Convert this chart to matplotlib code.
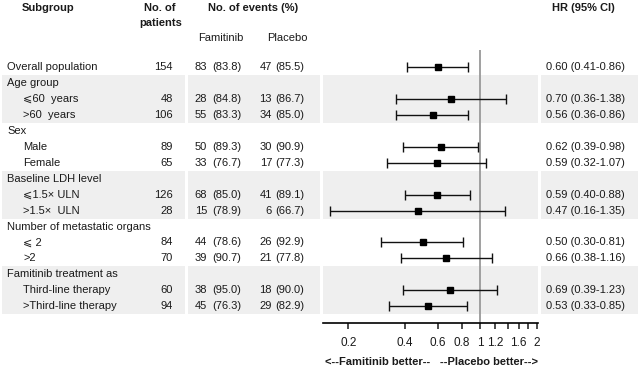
import matplotlib
matplotlib.use("Agg")
import matplotlib.pyplot as plt
import numpy as np

plt.rcParams['font.family'] = ['Liberation Sans', 'DejaVu Sans']
plt.rcParams['font.size'] = 8

# subgroup table
labels = ["Overall population", "Age group", "\u2a7d60  years", ">60  years",
          "Sex", "Male", "Female", "Baseline LDH level", "\u2a7d1.5\u00d7 ULN",
          ">1.5\u00d7  ULN", "Number of metastatic organs", "\u2a7d 2", ">2",
          "Famitinib treatment as", "Third-line therapy", ">Third-line therapy"]
indent = [0, 0, 1, 1, 0, 1, 1, 0, 1, 1, 0, 1, 1, 0, 1, 1]
patients = [154, None, 48, 106, None, 89, 65, None, 126, 28, None, 84, 70, None, 60, 94]
fam_n = [83, None, 28, 55, None, 50, 33, None, 68, 15, None, 44, 39, None, 38, 45]
fam_pct = [83.8, None, 84.8, 83.3, None, 89.3, 76.7, None, 85.0, 78.9, None, 78.6, 90.7, None, 95.0, 76.3]
pla_n = [47, None, 13, 34, None, 30, 17, None, 41, 6, None, 26, 21, None, 18, 29]
pla_pct = [85.5, None, 86.7, 85.0, None, 90.9, 77.3, None, 89.1, 66.7, None, 92.9, 77.8, None, 90.0, 82.9]
hr = [0.60, None, 0.70, 0.56, None, 0.62, 0.59, None, 0.59, 0.47, None, 0.50, 0.66, None, 0.69, 0.53]
ci_lo = [0.41, None, 0.36, 0.36, None, 0.39, 0.32, None, 0.40, 0.16, None, 0.30, 0.38, None, 0.39, 0.33]
ci_hi = [0.86, None, 1.38, 0.86, None, 0.98, 1.07, None, 0.88, 1.35, None, 0.81, 1.16, None, 1.23, 0.85]
shaded_groups = [(1, 3), (7, 9), (13, 15)]

tick_vals = [0.2, 0.4, 0.6, 0.8, 1, 1.2, 1.4, 1.6, 1.8, 2]
tick_labels = ["0.2", "0.4", "0.6", "0.8", "1", "1.2", "", "1.6", "", "2"]

W, H = 638, 371
row0, rowh = 67, 15.95   # pixel y of first row, row spacing
def rowpos(py):
    return (py - row0) / rowh

fig = plt.figure(figsize=(W / 100, H / 100), dpi=100)
ax = fig.add_axes([0, 0, 1, 1])
ax.set_xlim(0, W)
ax.set_ylim(rowpos(H), rowpos(0))
ax.axis('off')

txt = '#1a1a1a'
band = '#efefef'
cols = [(2, 185), (188, 320), (323, 538), (541, 638)]
for a, b in shaded_groups:
    for x0, x1 in cols:
        ax.fill_between([x0, x1], a - 0.5, b + 0.5, color=band, lw=0, zorder=0)

# headers
ax.text(22, rowpos(8), "Subgroup", weight='bold', va='center', color=txt)
ax.text(160, rowpos(8), "No. of", weight='bold', va='center', ha='center', color=txt)
ax.text(161, rowpos(23), "patients", weight='bold', va='center', ha='center', color=txt)
ax.text(208, rowpos(8), "No. of events (%)", weight='bold', va='center', color=txt)
ax.text(221, rowpos(38), "Famitinib", va='center', ha='center', color=txt)
ax.text(287, rowpos(38), "Placebo", va='center', ha='center', color=txt)
ax.text(552, rowpos(8), "HR (95% CI)", weight='bold', va='center', color=txt)

for i, lab in enumerate(labels):
    ax.text(23 if indent[i] else 7, i, lab, va='center', color=txt)
    if patients[i] is None:
        continue
    ax.text(173, i, str(patients[i]), va='center', ha='right', color=txt)
    ax.text(207, i, str(fam_n[i]), va='center', ha='right', color=txt)
    ax.text(212, i, f"({fam_pct[i]:.1f})", va='center', color=txt)
    ax.text(272, i, str(pla_n[i]), va='center', ha='right', color=txt)
    ax.text(275, i, f"({pla_pct[i]:.1f})", va='center', color=txt)
    ax.text(546, i, f"{hr[i]:.2f} ({ci_lo[i]:.2f}-{ci_hi[i]:.2f})", va='center', color=txt)

ax.text(325, rowpos(362), "<--Famitinib better--", weight='bold',
        va='center', ha='left', color=txt)
ax.text(538, rowpos(362), "--Placebo better-->", weight='bold',
        va='center', ha='right', color=txt)

# forest panel
fx0, fx1, fy_top, fy_bot = 323, 538, 50, 323
fax = fig.add_axes([fx0 / W, 1 - fy_bot / H, (fx1 - fx0) / W, (fy_bot - fy_top) / H])
fax.patch.set_visible(False)
fax.set_xscale('log')
fax.set_xlim(0.147, 2.03)
fax.set_ylim(rowpos(fy_bot), rowpos(fy_top))
for s in ['top', 'left', 'right']:
    fax.spines[s].set_visible(False)
fax.spines['bottom'].set_linewidth(1.2)
fax.set_yticks([])
fax.set_xticks(tick_vals)
fax.set_xticklabels(tick_labels)
fax.minorticks_off()
fax.tick_params(axis='x', length=4, width=1.1, pad=6, labelsize=8.5, colors=txt)
fax.axvline(1, color='#999999', lw=1.3, zorder=1)

idx = [i for i in range(len(labels)) if hr[i] is not None]
h = np.array([hr[i] for i in idx])
lo = np.array([ci_lo[i] for i in idx])
hi = np.array([ci_hi[i] for i in idx])
fax.errorbar(h, idx, xerr=[h - lo, hi - h], fmt='s', color='black', ms=5,
             ecolor='#111111', elinewidth=1.0, capsize=3.6, capthick=1.0, zorder=3)

fig.savefig("out.png", dpi=100)
